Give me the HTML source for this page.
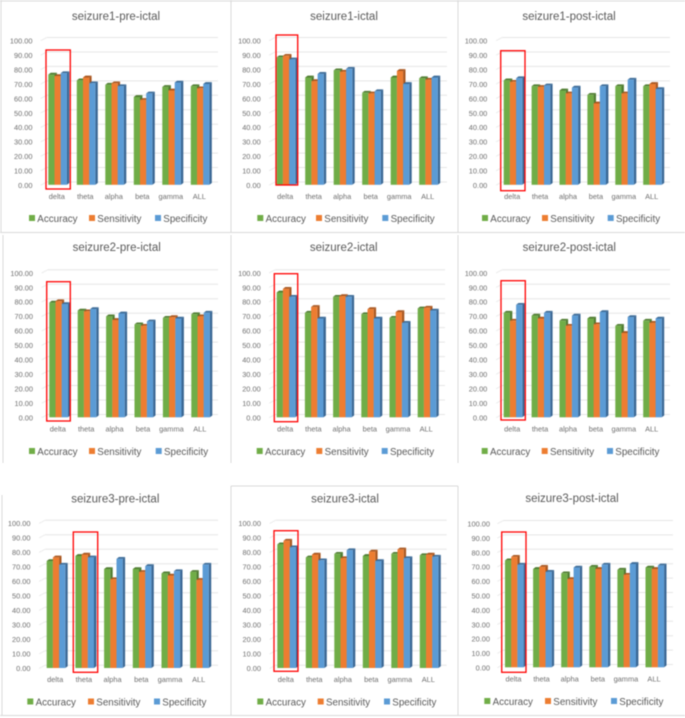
<!DOCTYPE html>
<html lang="en">
<head>
<meta charset="utf-8">
<title>Seizure classification performance charts</title>
<style>
html,body{margin:0;padding:0;background:#fff;width:685px;height:718px;overflow:hidden}
svg{display:block;filter:blur(.5px);font-family:"Liberation Sans",sans-serif}
</style>
</head>
<body>
<svg id="figure" width="685" height="718" viewBox="0 0 685 718" xmlns="http://www.w3.org/2000/svg"></svg>
<script>
const categories = ["delta", "theta", "alpha", "beta", "gamma", "ALL"];
const seriesNames = ["Accuracy", "Sensitivity", "Specificity"];
const tickValues = [0, 10, 20, 30, 40, 50, 60, 70, 80, 90, 100];
const tickLabels = ["0.00", "10.00", "20.00", "30.00", "40.00", "50.00", "60.00", "70.00", "80.00", "90.00", "100.00"];
const chartTitles = ["seizure1-pre-ictal", "seizure1-ictal", "seizure1-post-ictal", "seizure2-pre-ictal", "seizure2-ictal", "seizure2-post-ictal", "seizure3-pre-ictal", "seizure3-ictal", "seizure3-post-ictal"];
const highlightedCategory = ["delta", "delta", "delta", "delta", "delta", "delta", "theta", "delta", "delta"];

const accuracy = [
  [76, 72, 69, 60.5, 67.5, 68],
  [88, 74, 79, 63.5, 74, 73.5],
  [72, 68, 65, 62, 68, 68],
  [79, 73.5, 69.5, 64, 68.5, 71],
  [86, 72, 83, 71, 68.5, 75],
  [72, 70, 66.5, 68, 63, 66.5],
  [73.5, 77, 68, 68, 65, 66],
  [85, 76, 78.5, 77, 78.5, 77.5],
  [74, 68, 65, 69.5, 67.5, 69]
];
const sensitivity = [
  [75, 74, 70, 58.5, 65, 66.5],
  [89, 71.5, 78, 63, 78.5, 72.5],
  [71, 67.5, 63, 56, 63, 69.5],
  [80, 73, 67, 63, 69, 69.5],
  [88.5, 76, 83.5, 74.5, 72.5, 75.5],
  [66.5, 68, 63, 64, 58, 65],
  [76, 78, 61, 66, 63.5, 60.5],
  [87.5, 78, 75.5, 80, 81.5, 78],
  [76.5, 69.5, 61, 68, 64, 68]
];
const specificity = [
  [77, 70, 68, 63, 70.5, 69.5],
  [86.5, 76.5, 80, 64.5, 69.5, 74],
  [73.5, 68.5, 67, 68, 72.5, 66],
  [78, 74.5, 71.5, 66, 68, 72],
  [83, 68, 83, 68, 65, 73.5],
  [77.5, 72, 70, 72.5, 69, 68],
  [71, 76, 75, 70, 66.5, 71],
  [83, 74, 81, 73.5, 75.5, 76.5],
  [71, 66, 69, 71, 71.5, 70.5]
];
const seriesValues = [accuracy, sensitivity, specificity];

/* Layout only, no data values */
const layouts = [
  {x0:48.3, step:28.5, y0:185.5, y100:41, tx:116, ty:20, right:218, lx:[29,89,155], ly:222, box:[46,50,24.3,139], lbl:32.5},
  {x0:276.7,step:28.5, y0:185.5, y100:41, tx:344, ty:20, right:447, lx:[257.3,316,382.3], ly:222, box:[276,35,21.7,150], lbl:260.7},
  {x0:503.7,step:27.9, y0:185.5, y100:41, tx:569, ty:20, right:670, lx:[482,542,607.7], ly:222, box:[500.7,50.7,24.3,140], lbl:487.3},
  {x0:49.3, step:28.4, y0:418, y100:273.3, tx:116.7, ty:251, right:218, lx:[29,89,155.7], ly:455, box:[46.7,281.7,23.6,139.3], lbl:33},
  {x0:276.7,step:28.2, y0:418, y100:273.3, tx:343.7, ty:251, right:445, lx:[256.7,316.3,381.7], ly:455, box:[274.3,273.7,23.4,148], lbl:260.7},
  {x0:503.7,step:27.9, y0:418, y100:273.3, tx:569.3, ty:251, right:670, lx:[481.7,541.7,607], ly:455, box:[501,280.7,24.3,139.3], lbl:487.3},
  {x0:46.7, step:28.7, y0:668.7, y100:523.7, tx:115.3, ty:502.5, right:218, lx:[27.3,88,154], ly:705.5, box:[73.3,532,24.4,140.3], lbl:30.5},
  {x0:277.3,step:28.5, y0:668.7, y100:523.7, tx:345, ty:502.5, right:446.7, lx:[257.3,317.7,384], ly:705.5, box:[274,530.7,24,140.6], lbl:261},
  {x0:505, step:28.1, y0:668, y100:524, tx:572, ty:502, right:673, lx:[484.3,545,611], ly:705, box:[501.7,532,24.3,140.3], lbl:490}
];
const panelLines = [
  [1,0,1,232],[231,0,231,232],[458,0,458,232],[0,1,685,1],[0,232.5,685,232.5],
  [3,235,3,463],[231,235,231,463],[458,235,458,463],
  [2,495,2,715],[231,486,231,715],[458,486,458,715],[231,486,458,486],[0,715.5,685,715.5]
];

const NS = "http://www.w3.org/2000/svg";
const fills = ["#70ad47", "#ed7d31", "#5b9bd5"];
const tops = ["#4f7c31", "#a95720", "#3d6c98"];
const sides = ["#4f7c31", "#a95720", "#3a6794"];
const BAR_W = 6.2, DX = 2.4, DY = 1.8, TOP_SHIFT = 1.1;
const fig = document.getElementById("figure");

function mk(parent, tag, attrs, text) {
  const el = document.createElementNS(NS, tag);
  for (const k in attrs) el.setAttribute(k, attrs[k]);
  if (text !== undefined) el.textContent = text;
  parent.appendChild(el);
  return el;
}

panelLines.forEach(function (p) {
  const line = mk(fig, "line", {x1:p[0], y1:p[1], x2:p[2], y2:p[3], stroke:"#d9d9d9", "stroke-width":1});
  
  
});

chartTitles.forEach(function (title, c) {
  const L = layouts[c];
  const yScale = function (v) { return L.y0 - (L.y0 - L.y100) * v / 100; };
  const xScale = function (g, s) { return L.x0 + g * L.step + s * BAR_W; };

  const g = mk(fig, "g", {});
  
  

  const titleEl = mk(g, "text", {x:L.tx, y:L.ty, "text-anchor":"middle", "font-size":11.5, fill:"#595959"}, title);
  
  

  tickValues.forEach(function (v, i) {
    const y = yScale(v);
    const grid = mk(g, "line", {x1:L.x0 - 1.6, y1:y - 3.5, x2:L.right, y2:y - 3.5, stroke:"#e6e6e6", "stroke-width":1});
    
    
    const diag = mk(g, "line", {x1:L.x0 - 7.6, y1:y - 0.3, x2:L.x0 - 1.6, y2:y - 3.5, stroke:"#ececec", "stroke-width":1});
    
    
    const tick = mk(g, "text", {x:L.lbl, y:y + 2.5, "text-anchor":"end", "font-size":7.4, fill:"#6f6f6f"}, tickLabels[i]);
    
    
  });

  categories.forEach(function (cat, gi) {
    const label = mk(g, "text", {x:L.x0 + gi * L.step + 8.5, y:L.y0 + 13.5, "text-anchor":"middle", "font-size":7.4, fill:"#6f6f6f"}, cat);
    
    
    seriesNames.forEach(function (name, s) {
      const v = seriesValues[s][c][gi];
      const x = xScale(gi, s);
      const y = yScale(v) - TOP_SHIFT;
      const base = L.y0 - 0.7;
      const bar = mk(g, "g", {});
      
      
      mk(bar, "polygon", {points:[x + BAR_W, y, x + BAR_W + DX, y - DY, x + BAR_W + DX, base - DY, x + BAR_W, base].join(" "), fill:sides[s]});
      mk(bar, "polygon", {points:[x, y, x + DX, y - DY, x + BAR_W + DX, y - DY, x + BAR_W, y].join(" "), fill:tops[s]});
      mk(bar, "rect", {x:x, y:y, width:BAR_W, height:Math.max(0, base - y), fill:fills[s]});
    });
  });

  const hi = mk(g, "rect", {x:L.box[0], y:L.box[1], width:L.box[2], height:L.box[3], fill:"none", stroke:"#ff0000", "stroke-width":1.3});
  
  

  seriesNames.forEach(function (name, s) {
    const sw = mk(g, "rect", {x:L.lx[s], y:L.ly - 7, width:6, height:6, fill:fills[s]});
    
    
    const lt = mk(g, "text", {x:L.lx[s] + 8.3, y:L.ly, "font-size":9.8, fill:"#595959"}, name);
    
    
  });
});
</script>
</body>
</html>
